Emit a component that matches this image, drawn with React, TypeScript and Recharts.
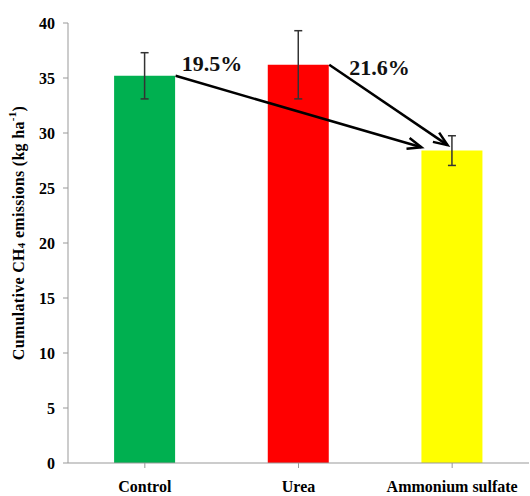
import { BarChart, Bar, XAxis, YAxis, ErrorBar, Cell, ReferenceLine, ReferenceDot } from 'recharts'

const treatments = ['Control', 'Urea', 'Ammonium sulfate']
const emissions = [35.2, 36.2, 28.4]
const errors = [2.1, 3.1, 1.35]
const barColors = ['#00B050', '#FF0000', '#FFFF00']
const yTicks = [0, 5, 10, 15, 20, 25, 30, 35, 40]

// arrows between bars, in a hidden numeric x scale (0..3 over the three bands)
const arrowFrom = [{ x: 0.7, y: 35.2 }, { x: 1.7, y: 36.2 }]
const arrowTo = [{ x: 2.3, y: 28.7 }, { x: 2.47, y: 28.9 }]
const reductionLabels = ['19.5%', '21.6%']
const labelAt = [{ x: 0.74, y: 35.6 }, { x: 1.83, y: 35.3 }]

const data = treatments.map((t, i) => ({ name: t, pos: i + 0.5, value: emissions[i], err: errors[i] }))

const serif = '"Liberation Serif", "Times New Roman", serif'

function Arrow(props: any) {
    const { x1, y1, x2, y2 } = props
    const ang = Math.atan2(y2 - y1, x2 - x1)
    const len = 15
    const spread = 0.38
    const ax = x2 - len * Math.cos(ang - spread)
    const ay = y2 - len * Math.sin(ang - spread)
    const bx = x2 - len * Math.cos(ang + spread)
    const by = y2 - len * Math.sin(ang + spread)
    return (
        <g>
            <line x1={x1} y1={y1} x2={x2} y2={y2} stroke="#000" strokeWidth={2.5} />
            <polyline points={`${ax},${ay} ${x2},${y2} ${bx},${by}`} fill="none" stroke="#000" strokeWidth={2.5} />
        </g>
    )
}

function YLabel(props: any) {
    const vb = props.viewBox || {}
    const cx = vb.x + 18
    const cy = vb.y + vb.height / 2 - 10
    return (
        <text
            x={cx}
            y={cy}
            transform={`rotate(-90, ${cx}, ${cy})`}
            textAnchor="middle"
            dominantBaseline="central"
            fontFamily={serif}
            fontWeight="bold"
            fontSize={16}
            letterSpacing={0.3}
            fill="#000"
        >
            Cumulative CH
            <tspan fontSize={11} dy={3}>4</tspan>
            <tspan dy={-3}> emissions (kg ha</tspan>
            <tspan fontSize={11} dy={-6}>-1</tspan>
            <tspan dy={6}>)</tspan>
        </text>
    )
}

export default function App() {
    return (
        <div style={{ position: 'absolute', left: 0, top: 0, background: '#fff' }}>
            <BarChart
                width={530}
                height={496}
                data={data}
                margin={{ top: 23, right: 1, left: 0, bottom: 0 }}
                barCategoryGap="30%"
            >
                <XAxis
                    xAxisId="cat"
                    dataKey="name"
                    stroke="#999"
                    tickSize={5}
                    tickMargin={13}
                    tick={{ fill: '#000', fontFamily: serif, fontWeight: 'bold', fontSize: 16 }}
                    height={33}
                />
                <XAxis xAxisId="num" dataKey="pos" type="number" domain={[0, 3]} allowDataOverflow hide height={0} />
                <YAxis
                    domain={[0, 40]}
                    ticks={yTicks}
                    width={68}
                    stroke="#999"
                    tickSize={5}
                    tickMargin={8}
                    tick={{ fill: '#000', fontFamily: serif, fontWeight: 'bold', fontSize: 16 }}
                    label={{ value: 'Cumulative CH4 emissions (kg ha-1)', content: YLabel }}
                />
                <Bar xAxisId="cat" dataKey="value" isAnimationActive={false}>
                    {data.map((d, i) => (
                        <Cell key={d.name} fill={barColors[i]} />
                    ))}
                    <ErrorBar dataKey="err" width={4} stroke="#333" strokeWidth={1.5} direction="y" />
                </Bar>
                {arrowFrom.map((p, i) => (
                    <ReferenceLine
                        key={'a' + i}
                        xAxisId="num"
                        segment={[p, arrowTo[i]]}
                        ifOverflow="visible"
                        shape={Arrow}
                    />
                ))}
                {labelAt.map((p, i) => (
                    <ReferenceDot
                        key={'l' + i}
                        xAxisId="num"
                        x={p.x}
                        y={p.y}
                        ifOverflow="visible"
                        shape={(s: any) => (
                            <text x={s.cx} y={s.cy} fontFamily={serif} fontWeight="bold" fontSize={22} fill="#111">
                                {reductionLabels[i]}
                            </text>
                        )}
                    />
                ))}
            </BarChart>
        </div>
    )
}
